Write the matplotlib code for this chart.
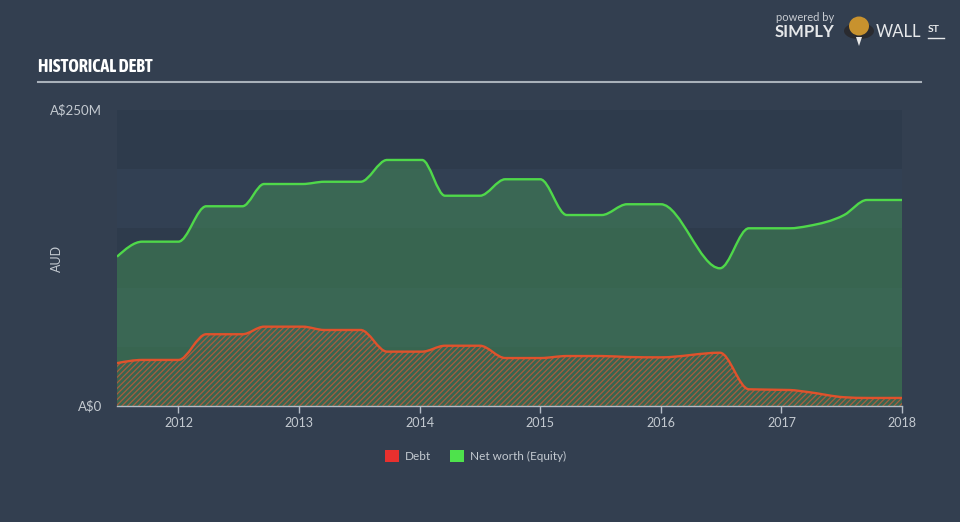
import numpy as np
import matplotlib
matplotlib.use("Agg")
import matplotlib.pyplot as plt
from matplotlib import font_manager
from matplotlib.path import Path
from matplotlib.patches import PathPatch, Rectangle, Circle, Ellipse, Polygon
from matplotlib.lines import Line2D

# ---------------- data ----------------
dates = [2011.49, 2011.70, 2012.00, 2012.23, 2012.53, 2012.71, 2013.03, 2013.21,
         2013.51, 2013.73, 2014.02, 2014.21, 2014.50, 2014.71, 2015.00, 2015.22,
         2015.51, 2015.72, 2016.00, 2016.49, 2016.73, 2017.07, 2017.22, 2017.52,
         2017.71, 2018.00]
debt = [36.2, 38.9, 38.9, 60.6, 60.6, 67.0, 67.0, 64.2, 64.2, 45.9, 45.9, 50.9,
        50.9, 40.5, 40.5, 42.2, 42.2, 41.4, 41.1, 45.0, 14.1, 13.5, 11.8, 7.4,
        6.8, 6.8]
equity = [126.1, 138.8, 138.8, 168.7, 168.7, 187.5, 187.5, 189.4, 189.4, 207.8,
          207.8, 177.6, 177.6, 191.5, 191.5, 161.3, 161.3, 170.4, 170.4, 116.3,
          150.1, 150.1, 152.0, 161.3, 174.0, 174.0]
year_ticks = [2012, 2013, 2014, 2015, 2016, 2017, 2018]
year_labels = ["2012", "2013", "2014", "2015", "2016", "2017", "2018"]
y_ticks = [0, 250]
y_labels = ["A$0", "A$250M"]
legend_labels = ["Debt", "Net worth (Equity)"]

# ---------------- style ----------------
BG = "#333f50"
BAND_DARK = "#2e3b4c"
BAND_LIGHT = "#324053"
TXT = "#c4cad1"
FONT = ["Lato", "DejaVu Sans"]
plt.rcParams["font.family"] = FONT
plt.rcParams["hatch.linewidth"] = 0.9

# pick a narrow font for the title if one is installed
narrow = None
for f in font_manager.fontManager.ttflist:
    if ("Narrow" in f.name or "Condensed" in f.name) and f.weight in ("bold", 700):
        narrow = f.name
        break
if narrow is None:
    for f in font_manager.fontManager.ttflist:
        if "Narrow" in f.name or "Condensed" in f.name:
            narrow = f.name
            break
title_family = [narrow, "Liberation Sans"] if narrow else ["Liberation Sans", "DejaVu Sans"]
title_size = 13 if narrow else 11


def monotone_path(x, y, close_to_zero=False):
    x = np.asarray(x, float)
    y = np.asarray(y, float)
    n = len(x)
    h = np.diff(x)
    s = np.diff(y) / h
    t = np.zeros(n)
    for i in range(1, n - 1):
        s0, s1 = s[i - 1], s[i]
        p = (s0 * h[i] + s1 * h[i - 1]) / (h[i - 1] + h[i])
        t[i] = (np.sign(s0) + np.sign(s1)) * min(abs(s0), abs(s1), 0.5 * abs(p))
    t[0] = (3 * s[0] - t[1]) / 2
    t[-1] = (3 * s[-1] - t[-2]) / 2
    verts = [(x[0], y[0])]
    codes = [Path.MOVETO]
    for i in range(n - 1):
        dx = (x[i + 1] - x[i]) / 3
        verts += [(x[i] + dx, y[i] + dx * t[i]),
                  (x[i + 1] - dx, y[i + 1] - dx * t[i + 1]),
                  (x[i + 1], y[i + 1])]
        codes += [Path.CURVE4] * 3
    if close_to_zero:
        verts += [(x[-1], 0), (x[0], 0), (x[0], y[0])]
        codes += [Path.LINETO, Path.LINETO, Path.CLOSEPOLY]
    return Path(verts, codes)


fig = plt.figure(figsize=(9.6, 5.22), dpi=100, facecolor=BG)
ax = fig.add_axes([117 / 960, 1 - 406 / 522, 785 / 960, 296 / 522])
ax.set_facecolor(BAND_DARK)
ax.set_xlim(dates[0], 2018.0)
ax.set_ylim(0, 250)
for lo in (50, 150):
    ax.axhspan(lo, lo + 50, color=BAND_LIGHT, zorder=0, lw=0)

# equity area + line
ax.add_patch(PathPatch(monotone_path(dates, equity, True), facecolor="#438f55",
                       alpha=0.5, edgecolor="none", zorder=1))
ax.add_patch(PathPatch(monotone_path(dates, equity), facecolor="none",
                       edgecolor="#4fd84a", lw=1.7, zorder=4))
# debt area (hatched) + line
ax.add_patch(PathPatch(monotone_path(dates, debt, True), facecolor="none",
                       edgecolor="#a85d3e", hatch="//////", lw=0, zorder=2))
ax.add_patch(PathPatch(monotone_path(dates, debt), facecolor="none",
                       edgecolor="#e0522c", lw=1.7, zorder=5))

for sp in ("top", "right", "left"):
    ax.spines[sp].set_visible(False)
ax.spines["bottom"].set_color("#b4bcc6")
ax.spines["bottom"].set_linewidth(1.0)
ax.spines["bottom"].set_zorder(6)
ax.set_xticks(year_ticks)
ax.set_xticklabels(year_labels)
ax.tick_params(axis="x", colors="#b4bcc6", length=5, width=1, pad=3,
               labelcolor=TXT, labelsize=9)
ax.set_yticks(y_ticks)
ax.set_yticklabels(y_labels)
ax.tick_params(axis="y", length=0, pad=11, labelcolor=TXT, labelsize=9.5)
for lab in ax.get_yticklabels():
    lab.set_va("center")

fig.text(57 / 960, 1 - 258 / 522, "AUD", rotation=90, color=TXT, fontsize=9,
         ha="center", va="center")

# title
fig.text(38 / 960, 1 - 67 / 522, "HISTORICAL DEBT", color="white",
         fontsize=title_size, fontweight="bold", family=title_family,
         ha="left", va="center")
fig.add_artist(Line2D([38 / 960, 921 / 960], [1 - 81.5 / 522] * 2,
                      transform=fig.transFigure, color="#a9b1ba", lw=1.5))

# logo
fig.text(776 / 960, 1 - 17.5 / 522, "powered by", color="#c8ccd2", fontsize=8,
         ha="left", va="center")
fig.text(775 / 960, 1 - 32 / 522, "SIMPLY", color="#e6e8ea", fontsize=12,
         fontweight="bold", ha="left", va="center")
fig.text(876 / 960, 1 - 32 / 522, "WALL", color="#e6e8ea", fontsize=12,
         fontweight="normal", ha="left", va="center")
fig.text(928 / 960, 1 - 30 / 522, "ST", color="#e6e8ea", fontsize=7.5,
         fontweight="bold", ha="left", va="center")
fig.add_artist(Line2D([928 / 960, 944 / 960], [1 - 37.5 / 522] * 2,
                      transform=fig.transFigure, color="#e6e8ea", lw=1))
fig.add_artist(Circle((859 / 960, 1 - 31 / 522), 15 / 960, transform=fig.transFigure,
                      facecolor="#2a2b30", edgecolor="none"))
fig.add_artist(Ellipse((859 / 960, 1 - 26 / 522), 20 / 960, 19 / 522,
                       transform=fig.transFigure, facecolor="#c8922e",
                       edgecolor="none"))
fig.add_artist(Polygon([(856 / 960, 1 - 37 / 522), (862 / 960, 1 - 37 / 522),
                        (859 / 960, 1 - 46 / 522)], closed=True,
                       transform=fig.transFigure, facecolor="#e8e8e8",
                       edgecolor="none"))

# legend
fig.add_artist(Rectangle((385 / 960, 1 - 462 / 522), 14 / 960, 12 / 522,
                         transform=fig.transFigure, facecolor="#e8302e",
                         edgecolor="none"))
fig.text(405 / 960, 1 - 456 / 522, legend_labels[0], color=TXT, fontsize=8.5,
         ha="left", va="center")
fig.add_artist(Rectangle((450 / 960, 1 - 462 / 522), 14 / 960, 12 / 522,
                         transform=fig.transFigure, facecolor="#4ee24c",
                         edgecolor="none"))
fig.text(470 / 960, 1 - 456 / 522, legend_labels[1], color=TXT, fontsize=8.5,
         ha="left", va="center")

fig.savefig("out.png", dpi=100, facecolor=BG)
